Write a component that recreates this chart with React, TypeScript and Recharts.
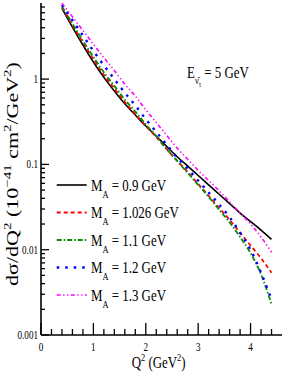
import React from 'react';
import { LineChart, Line, XAxis, YAxis, Legend } from 'recharts';

// Q^2 grid (GeV^2) and dσ/dQ^2 (10^-41 cm^2/GeV^2) for each axial mass
const Q2 = [0.4, 0.6, 0.8, 1.0, 1.2, 1.4, 1.6, 1.8, 2.0, 2.2, 2.4, 2.6, 2.8, 3.0, 3.2, 3.4, 3.6, 3.8, 4.0, 4.2, 4.4];
const MA_090 = [6.76, 4.07, 2.51, 1.585, 1.047, 0.724, 0.513, 0.38, 0.282, 0.214, 0.162, 0.123, 0.0955, 0.0741, 0.0575, 0.0447, 0.0347, 0.0269, 0.0214, 0.017, 0.0132];
const MA_1026 = [6.92, 4.27, 2.69, 1.7, 1.12, 0.776, 0.537, 0.389, 0.282, 0.209, 0.151, 0.11, 0.0813, 0.0589, 0.0427, 0.0309, 0.0224, 0.0158, 0.0112, 0.00794, 0.00537];
const MA_110 = [7.08, 4.47, 2.82, 1.82, 1.2, 0.832, 0.575, 0.417, 0.295, 0.214, 0.151, 0.11, 0.0794, 0.0575, 0.0417, 0.0295, 0.0209, 0.0141, 0.00912, 0.00513, 0.00229];
const MA_120 = [7.41, 4.9, 3.24, 2.14, 1.45, 1.0, 0.692, 0.49, 0.339, 0.24, 0.17, 0.12, 0.0891, 0.0646, 0.0468, 0.0339, 0.024, 0.0158, 0.01, 0.00537, 0.00263];
const MA_130 = [7.76, 5.37, 3.72, 2.57, 1.78, 1.26, 0.871, 0.631, 0.437, 0.309, 0.219, 0.155, 0.115, 0.0851, 0.0646, 0.049, 0.0363, 0.0269, 0.02, 0.0141, 0.00933];

const X_TICKS = [0, 0.2, 0.4, 0.6, 0.8, 1, 1.2, 1.4, 1.6, 1.8, 2, 2.2, 2.4, 2.6, 2.8, 3, 3.2, 3.4, 3.6, 3.8, 4, 4.2, 4.4];
const Y_TICKS = [
  0.001, 0.002, 0.003, 0.004, 0.005, 0.006, 0.007, 0.008, 0.009,
  0.01, 0.02, 0.03, 0.04, 0.05, 0.06, 0.07, 0.08, 0.09,
  0.1, 0.2, 0.3, 0.4, 0.5, 0.6, 0.7, 0.8, 0.9,
  1, 2, 3, 4, 5, 6, 7,
];

const SERIES = [
  { key: 'm090', label: '0.9', color: '#000000', dash: undefined, width: 1.6 },
  { key: 'm1026', label: '1.026', color: '#ff0000', dash: '4 3', width: 1.8 },
  { key: 'm110', label: '1.1', color: '#0a8a0a', dash: '5 2 1.5 2', width: 1.8 },
  { key: 'm120', label: '1.2', color: '#0000ff', dash: '2.5 6', width: 2.4 },
  { key: 'm130', label: '1.3', color: '#ff00ff', dash: '4 2.5 1.3 2.5 1.3 2.5', width: 1.6 },
];

const data = Q2.map((q, i) => ({
  q,
  m090: MA_090[i],
  m1026: MA_1026[i],
  m110: MA_110[i],
  m120: MA_120[i],
  m130: MA_130[i],
}));

const FONT = '"Liberation Serif", "Times New Roman", serif';
const SX = 0.76;

const isInt = (v: number) => Math.abs(v - Math.round(v)) < 1e-6;
const isDecade = (v: number) => {
  const m = v / Math.pow(10, Math.floor(Math.log10(v) + 1e-9));
  return Math.abs(m - 1) < 1e-6;
};

const XTick = (props: any) => {
  const { x, y, payload, dir, showLabel } = props;
  const major = isInt(payload.value);
  const len = major ? 12 : 6;
  return (
    <g>
      <line x1={x} x2={x} y1={y} y2={y + dir * len} stroke="#000" strokeWidth={1.3} />
      {showLabel && major && (
        <text transform={`translate(${x},${y + 16}) scale(${SX},1)`} textAnchor="middle" fontSize={12} fontFamily={FONT} fill="#000">
          {payload.value}
        </text>
      )}
    </g>
  );
};

const YTick = (props: any) => {
  const { x, y, payload, dir, showLabel } = props;
  const major = isDecade(payload.value);
  const len = major ? 8 : 4;
  return (
    <g>
      <line x1={x} x2={x + dir * len} y1={y} y2={y} stroke="#000" strokeWidth={1.3} />
      {showLabel && major && (
        <text transform={`translate(${x - 3},${y + 4}) scale(${SX},1)`} textAnchor="end" fontSize={12} fontFamily={FONT} fill="#000">
          {String(payload.value)}
        </text>
      )}
    </g>
  );
};

const LegendBox = () => (
  <svg width={200} height={140} style={{ overflow: 'visible' }}>
    {SERIES.map((s, i) => {
      const cy = 15 + i * 27.5;
      return (
        <g key={s.key}>
          <line x1={56.7} x2={86.7} y1={cy} y2={cy} stroke={s.color} strokeWidth={s.width} strokeDasharray={s.dash} />
          <g transform={`translate(91,${cy + 5.7}) scale(${SX},1)`}>
            <text fontSize={17} fontFamily={FONT} fill="#000">
              M<tspan dy={7} fontSize={11}>A</tspan>
              <tspan dy={-7}>{` = ${s.label} GeV`}</tspan>
            </text>
          </g>
        </g>
      );
    })}
  </svg>
);

const axisLine = { stroke: '#000', strokeWidth: 1.6 };

export default function App() {
  return (
    <div style={{ position: 'absolute', left: 0, top: 0, width: 284, height: 382, background: '#fff' }}>
      <LineChart width={284} height={382} data={data} margin={{ top: 3, right: 2, bottom: 0, left: 0 }}>
        <XAxis
          xAxisId="B"
          dataKey="q"
          type="number"
          domain={[0, 4.6]}
          ticks={X_TICKS}
          interval={0}
          height={47}
          tickSize={0}
          tickMargin={0}
          tickLine={false}
          axisLine={axisLine}
          tick={(p: any) => <XTick {...p} dir={-1} showLabel />}
        />
        <XAxis
          xAxisId="T"
          orientation="top"
          dataKey="q"
          type="number"
          domain={[0, 4.6]}
          ticks={X_TICKS}
          interval={0}
          height={0}
          tickSize={0}
          tickMargin={0}
          tickLine={false}
          axisLine={axisLine}
          tick={(p: any) => <XTick {...p} dir={1} showLabel={false} />}
        />
        <YAxis
          yAxisId="L"
          scale="log"
          type="number"
          domain={[0.001, 7.8]}
          allowDataOverflow
          ticks={Y_TICKS}
          interval={0}
          width={41}
          tickSize={0}
          tickMargin={0}
          tickLine={false}
          axisLine={axisLine}
          tick={(p: any) => <YTick {...p} dir={1} showLabel />}
        />
        <YAxis
          yAxisId="R"
          orientation="right"
          scale="log"
          type="number"
          domain={[0.001, 7.8]}
          allowDataOverflow
          ticks={Y_TICKS}
          interval={0}
          width={0}
          tickSize={0}
          tickMargin={0}
          tickLine={false}
          axisLine={axisLine}
          tick={(p: any) => <YTick {...p} dir={-1} showLabel={false} />}
        />
        {SERIES.map((s) => (
          <Line
            key={s.key}
            xAxisId="B"
            yAxisId="L"
            dataKey={s.key}
            type="monotone"
            stroke={s.color}
            strokeWidth={s.width}
            strokeDasharray={s.dash}
            dot={false}
            isAnimationActive={false}
          />
        ))}
        <Legend
          layout="horizontal"
          verticalAlign="middle"
          align="center"
          content={() => <LegendBox />}
          wrapperStyle={{ position: 'absolute', left: 0, top: 170, width: 200, height: 140 }}
        />
      </LineChart>
      <svg width={284} height={382} style={{ position: 'absolute', left: 0, top: 0, pointerEvents: 'none' }}>
        <g transform={`translate(187,78) scale(${SX},1)`}>
          <text fontSize={17} fontFamily={FONT} fill="#000">
            E<tspan dy={6} fontSize={11}>{'ν\u0304'}</tspan>
            <tspan dy={3} fontSize={8}>τ</tspan>
            <tspan dy={-9}> = 5 GeV</tspan>
          </text>
        </g>
        <g transform={`translate(131.7,368) scale(${SX},1)`}>
          <text fontSize={17} fontFamily={FONT} fill="#000">
            Q<tspan dy={-7} fontSize={11}>2</tspan>
            <tspan dy={7}> (GeV</tspan>
            <tspan dy={-7} fontSize={11}>2</tspan>
            <tspan dy={7}>)</tspan>
          </text>
        </g>
        <g transform="translate(18,174) rotate(-90) scale(1,0.76)">
          <text textAnchor="middle" fontSize={22} fontFamily={FONT} fill="#000">
            dσ/dQ<tspan dy={-9} fontSize={15}>2</tspan>
            <tspan dy={9}> (10</tspan>
            <tspan dy={-9} fontSize={15}>−41</tspan>
            <tspan dy={9}> cm</tspan>
            <tspan dy={-9} fontSize={15}>2</tspan>
            <tspan dy={9}>/GeV</tspan>
            <tspan dy={-9} fontSize={15}>2</tspan>
            <tspan dy={9}>)</tspan>
          </text>
        </g>
      </svg>
    </div>
  );
}
